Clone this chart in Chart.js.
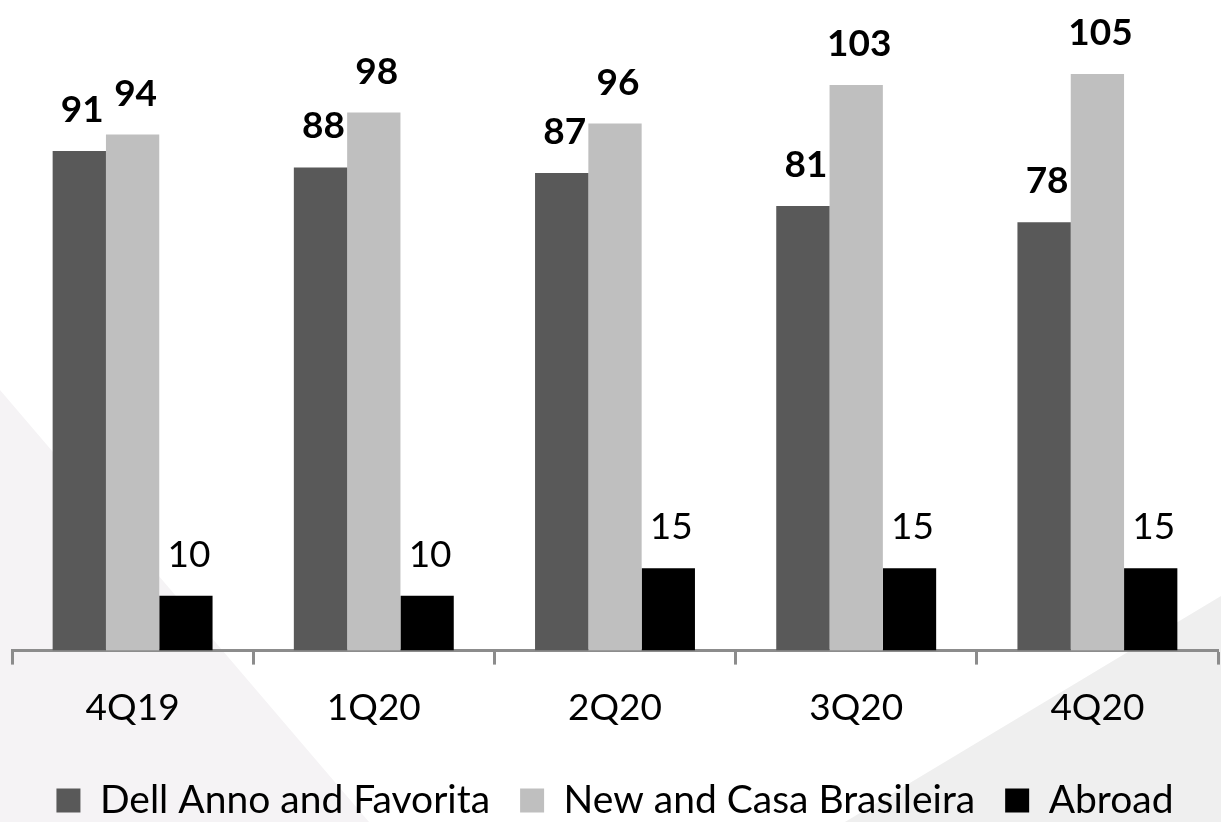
<!DOCTYPE html>
<html>
<head>
<meta charset="utf-8">
<script src="https://cdn.jsdelivr.net/npm/chart.js@4"></script>
<style>
  html, body { margin: 0; padding: 0; background: #ffffff; }
  #wrap { width: 1221px; height: 822px; position: relative; }
</style>
</head>
<body>
<div id="wrap"><canvas id="chart"></canvas></div>
<script>
// quarters
var quarters = ['4Q19', '1Q20', '2Q20', '3Q20', '4Q20'];

// series values
var dellAnno = [91, 88, 87, 81, 78];
var newCasa = [94, 98, 96, 103, 105];
var abroad = [10, 10, 15, 15, 15];

var seriesNames = ['Dell Anno and Favorita', 'New and Casa Brasileira', 'Abroad'];

var FONT = 'Lato, "Open Sans", sans-serif';

// faint slide background shapes
var backdrop = {
    id: 'backdrop',
    beforeDraw: function (chart) {
        var c = chart.ctx, w = chart.width, h = chart.height;
        c.save();
        c.fillStyle = '#f5f3f5';
        c.beginPath();
        c.moveTo(0, 390);
        c.lineTo(369, h);
        c.lineTo(0, h);
        c.closePath();
        c.fill();
        c.fillStyle = '#efefef';
        c.beginPath();
        c.moveTo(845, h);
        c.lineTo(w, 596);
        c.lineTo(w, h);
        c.closePath();
        c.fill();
        c.restore();
    }
};

// value labels above each bar
var valueLabels = {
    id: 'valueLabels',
    afterDatasetsDraw: function (chart) {
        var c = chart.ctx;
        c.save();
        c.fillStyle = '#000';
        c.textAlign = 'center';
        c.textBaseline = 'alphabetic';
        chart.data.datasets.forEach(function (ds, i) {
            var meta = chart.getDatasetMeta(i);
            c.font = (i < 2 ? 'bold ' : '') + '37px ' + FONT;
            meta.data.forEach(function (bar, j) {
                c.fillText(ds.data[j], bar.x + 3, bar.y - 29);
            });
        });
        c.restore();
    }
};

new Chart(document.getElementById('chart'), {
    type: 'bar',
    data: {
        labels: quarters,
        datasets: [{
            label: seriesNames[0],
            data: dellAnno,
            backgroundColor: '#595959'
        }, {
            label: seriesNames[1],
            data: newCasa,
            backgroundColor: '#bfbfbf'
        }, {
            label: seriesNames[2],
            data: abroad,
            backgroundColor: '#000000'
        }]
    },
    options: {
        responsive: true,
        maintainAspectRatio: false,
        animation: false,
        layout: { padding: { left: 12, right: 3, top: 0, bottom: -8 } },
        datasets: {
            bar: { barPercentage: 1, categoryPercentage: 0.663 }
        },
        scales: {
            x: {
                border: { display: true, color: '#8c8c8c', width: 3 },
                grid: {
                    display: true,
                    offset: true,
                    drawOnChartArea: false,
                    drawTicks: true,
                    tickLength: 14,
                    tickWidth: 3,
                    color: '#8c8c8c'
                },
                ticks: {
                    color: '#000',
                    padding: 21,
                    font: { family: FONT, size: 37 }
                }
            },
            y: {
                display: false,
                min: 0,
                max: 118.5
            }
        },
        plugins: {
            legend: {
                position: 'bottom',
                labels: {
                    color: '#000',
                    boxWidth: 24,
                    boxHeight: 24,
                    padding: 30,
                    font: { family: FONT, size: 39 }
                }
            },
            tooltip: { enabled: false },
            title: { display: false }
        }
    },
    plugins: [backdrop, valueLabels]
});
</script>
</body>
</html>
